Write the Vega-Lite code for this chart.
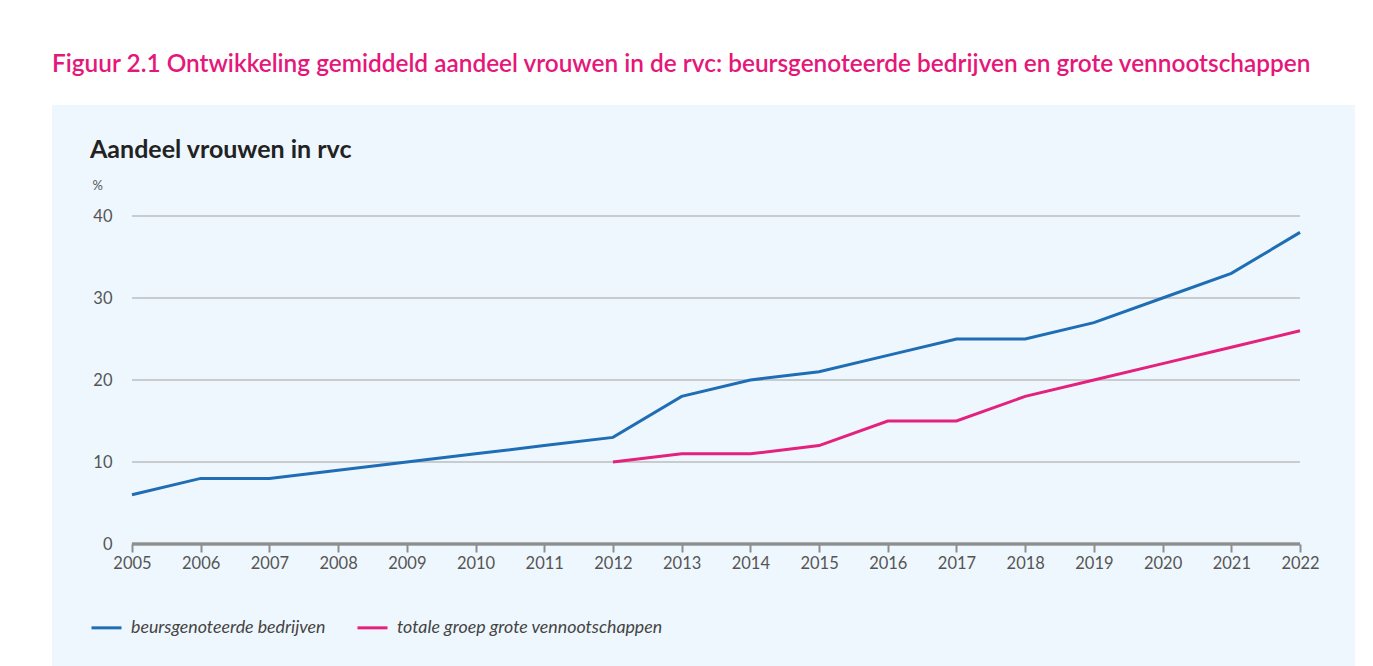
{
  "$schema": "https://vega.github.io/schema/vega-lite/v6.json",
  "width": 1303,
  "height": 561,
  "autosize": {"type": "none"},
  "padding": {"left": 52, "top": 105, "right": 18, "bottom": 0},
  "background": "white",
  "title": {
    "text": "Figuur 2.1 Ontwikkeling gemiddeld aandeel vrouwen in de rvc: beursgenoteerde bedrijven en grote vennootschappen",
    "anchor": "start",
    "frame": "group",
    "color": "#e5177a",
    "font": "Lato",
    "fontSize": 24.4,
    "fontWeight": 600,
    "offset": 28,
    "limit": 1320
  },
  "config": {
    "view": {"fill": "#eef7fd", "stroke": null}
  },
  "datasets": {
    "series": [
      {"jaar": 2005, "aandeel": 6, "groep": "beursgenoteerde bedrijven"},
      {"jaar": 2006, "aandeel": 8, "groep": "beursgenoteerde bedrijven"},
      {"jaar": 2007, "aandeel": 8, "groep": "beursgenoteerde bedrijven"},
      {"jaar": 2008, "aandeel": 9, "groep": "beursgenoteerde bedrijven"},
      {"jaar": 2009, "aandeel": 10, "groep": "beursgenoteerde bedrijven"},
      {"jaar": 2010, "aandeel": 11, "groep": "beursgenoteerde bedrijven"},
      {"jaar": 2011, "aandeel": 12, "groep": "beursgenoteerde bedrijven"},
      {"jaar": 2012, "aandeel": 13, "groep": "beursgenoteerde bedrijven"},
      {"jaar": 2013, "aandeel": 18, "groep": "beursgenoteerde bedrijven"},
      {"jaar": 2014, "aandeel": 20, "groep": "beursgenoteerde bedrijven"},
      {"jaar": 2015, "aandeel": 21, "groep": "beursgenoteerde bedrijven"},
      {"jaar": 2016, "aandeel": 23, "groep": "beursgenoteerde bedrijven"},
      {"jaar": 2017, "aandeel": 25, "groep": "beursgenoteerde bedrijven"},
      {"jaar": 2018, "aandeel": 25, "groep": "beursgenoteerde bedrijven"},
      {"jaar": 2019, "aandeel": 27, "groep": "beursgenoteerde bedrijven"},
      {"jaar": 2020, "aandeel": 30, "groep": "beursgenoteerde bedrijven"},
      {"jaar": 2021, "aandeel": 33, "groep": "beursgenoteerde bedrijven"},
      {"jaar": 2022, "aandeel": 38, "groep": "beursgenoteerde bedrijven"},
      {"jaar": 2012, "aandeel": 10, "groep": "totale groep grote vennootschappen"},
      {"jaar": 2013, "aandeel": 11, "groep": "totale groep grote vennootschappen"},
      {"jaar": 2014, "aandeel": 11, "groep": "totale groep grote vennootschappen"},
      {"jaar": 2015, "aandeel": 12, "groep": "totale groep grote vennootschappen"},
      {"jaar": 2016, "aandeel": 15, "groep": "totale groep grote vennootschappen"},
      {"jaar": 2017, "aandeel": 15, "groep": "totale groep grote vennootschappen"},
      {"jaar": 2018, "aandeel": 18, "groep": "totale groep grote vennootschappen"},
      {"jaar": 2019, "aandeel": 20, "groep": "totale groep grote vennootschappen"},
      {"jaar": 2020, "aandeel": 22, "groep": "totale groep grote vennootschappen"},
      {"jaar": 2021, "aandeel": 24, "groep": "totale groep grote vennootschappen"},
      {"jaar": 2022, "aandeel": 26, "groep": "totale groep grote vennootschappen"}
    ],
    "grid": [{"v": 10}, {"v": 20}, {"v": 30}, {"v": 40}]
  },
  "layer": [
    {
      "data": {"name": "grid"},
      "mark": {"type": "rule", "color": "#c9cccf", "strokeWidth": 2},
      "encoding": {
        "y": {"field": "v", "type": "quantitative"},
        "x": {"datum": 2005, "type": "quantitative"},
        "x2": {"datum": 2022}
      }
    },
    {
      "data": {"name": "grid"},
      "mark": {"type": "rule", "color": "#8c8e90", "strokeWidth": 2.5},
      "encoding": {
        "y": {"datum": 0, "type": "quantitative"},
        "x": {"datum": 2005, "type": "quantitative"},
        "x2": {"datum": 2022}
      }
    },
    {
      "data": {"name": "series"},
      "mark": {"type": "line", "strokeWidth": 3},
      "encoding": {
        "x": {
          "field": "jaar",
          "type": "quantitative",
          "scale": {"domain": [2003.836, 2022.8], "nice": false, "zero": false},
          "axis": {
            "values": [2005, 2006, 2007, 2008, 2009, 2010, 2011, 2012, 2013, 2014, 2015, 2016, 2017, 2018, 2019, 2020, 2021, 2022],
            "format": "d",
            "title": null,
            "offset": -122,
            "domain": false,
            "grid": false,
            "ticks": true,
            "tickSize": 8,
            "tickWidth": 2,
            "tickColor": "#8c8e90",
            "labelPadding": 3,
            "labelFont": "Lato",
            "labelFontSize": 16.5,
            "labelColor": "#555555"
          }
        },
        "y": {
          "field": "aandeel",
          "type": "quantitative",
          "scale": {"domain": [-14.878, 53.537], "nice": false, "zero": false},
          "axis": {
            "values": [0, 10, 20, 30, 40],
            "title": "%",
            "titleAngle": 0,
            "titleAlign": "left",
            "titleBaseline": "middle",
            "titleX": -20,
            "titleY": 80,
            "titleFont": "Lato",
            "titleFontSize": 13,
            "titleFontWeight": "normal",
            "titleColor": "#555555",
            "offset": -60,
            "domain": false,
            "ticks": false,
            "tickSize": 0,
            "grid": false,
            "labelPadding": 0,
            "labelFont": "Lato",
            "labelFontSize": 16.5,
            "labelColor": "#555555"
          }
        },
        "color": {
          "field": "groep",
          "type": "nominal",
          "scale": {
            "domain": ["beursgenoteerde bedrijven", "totale groep grote vennootschappen"],
            "range": ["#1f6db5", "#e4217d"]
          },
          "legend": {
            "title": "Aandeel vrouwen in rvc",
            "orient": "none",
            "legendX": 38,
            "legendY": 33,
            "direction": "horizontal",
            "titleFont": "Lato",
            "titleFontSize": 25,
            "titleFontWeight": "bold",
            "titleColor": "#222222",
            "titleLimit": 600,
            "titlePadding": 448,
            "symbolType": "stroke",
            "symbolSize": 900,
            "symbolStrokeWidth": 3,
            "labelFont": "Lato",
            "labelFontStyle": "italic",
            "labelFontSize": 17.8,
            "labelColor": "#444444",
            "labelOffset": 8,
            "labelLimit": 400,
            "columnPadding": 25
          }
        }
      }
    }
  ]
}
